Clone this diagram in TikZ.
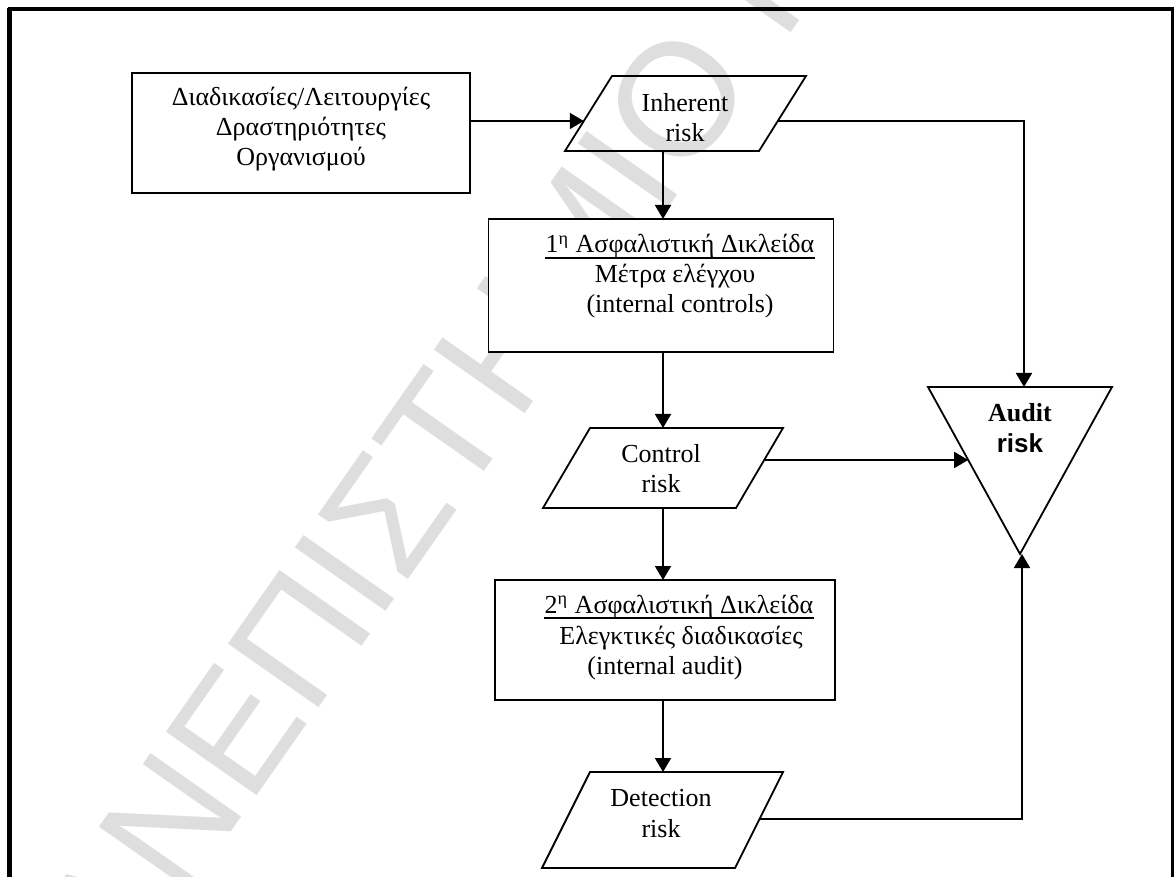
\documentclass[tikz,border=0pt]{standalone}
\usepackage{fontspec}
\setmainfont{Liberation Serif}
\newfontfamily\arialfont{Liberation Sans}
\usetikzlibrary{arrows.meta,calc}
\definecolor{wmgray}{HTML}{DEDEDE}

\begin{document}
\begin{tikzpicture}[x=0.5pt,y=-0.5pt,
  txt/.style={font=\fontsize{13}{15}\selectfont, inner sep=0pt, anchor=base},
  boxnode/.style={draw, fill=white, line width=0.9pt, inner sep=0pt, outer sep=0pt},
  frameless/.style={draw=none, inner sep=0pt, outer sep=0pt},
  outline/.style={line width=0.9pt, line join=miter},
  link/.style={line width=0.9pt},
  arrow/.style={link, -{Triangle[length=7pt,width=8pt]}},
  wm/.style={font=\arialfont\fontsize{80.5}{80}\selectfont, text=wmgray, inner sep=0pt, rotate=55},
]
\useasboundingbox (0,0) rectangle (1174,877);
\fill[white] (0,0) rectangle (1174,877);

% watermark behind the diagram
\node[wm, anchor=base west] (wmark) at (54.4,1085.3) {ΠΑΝΕΠΙΣΤΗΜΙΟ ΠΕΙΡΑΙΩΣ};

% page frame (open at the bottom)
\draw[line width=2.5pt] (9.2,885) -- (9.2,8);
\draw[line width=1.7pt] (8,9) -- (1173,9) -- (1173,885);

% vertical axis of the main flow
\coordinate (spine) at (663,0);

% rectangular boxes
\node[boxnode, minimum width=169pt, minimum height=60pt] (box1) at (301,133) {};
\node[boxnode, minimum width=172.5pt, minimum height=66.5pt] (box2) at (661,285.5) {};
\node[boxnode, minimum width=170pt, minimum height=60pt] (box3) at (665,640) {};

% parallelograms (risk data)
\node[frameless, minimum width=120.5pt, minimum height=37.5pt] (inh) at (685.5,113.5) {};
\node[frameless, minimum width=120pt, minimum height=40pt] (ctrl) at (663,468) {};
\node[frameless, minimum width=120.5pt, minimum height=48pt] (det) at (662.5,820) {};
\draw[outline] ([xshift=23.5pt]inh.north west) -- (inh.north east) -- ([xshift=-23.5pt]inh.south east) -- (inh.south west) -- cycle;
\draw[outline] ([xshift=23.5pt]ctrl.north west) -- (ctrl.north east) -- ([xshift=-23.5pt]ctrl.south east) -- (ctrl.south west) -- cycle;
\draw[outline] ([xshift=24pt]det.north west) -- (det.north east) -- ([xshift=-24pt]det.south east) -- (det.south west) -- cycle;

% inverted triangle
\node[frameless, minimum width=92pt, minimum height=83.5pt] (aud) at (1020,470.5) {};
\draw[outline] (aud.north west) -- (aud.north east) -- (aud.south) -- cycle;

% texts
\node[txt] (b1a) at (301,106) {Διαδικασίες/Λειτουργίες};
\node[txt] (b1b) at (301,136) {Δραστηριότητες};
\node[txt] (b1c) at (301,166) {Οργανισμού};

\node[txt] (inha) at (685,112) {Inherent};
\node[txt] (inhb) at (685,142) {risk};

\node[txt] (b2a) at (680,253) {1\textsuperscript{η} Ασφαλιστική Δικλείδα};
\node[txt] (b2b) at (675,283) {Μέτρα ελέγχου};
\node[txt] (b2c) at (680,313) {(internal controls)};
\draw[line width=0.6pt] ([yshift=-2.5pt]b2a.base west) -- ([yshift=-2.5pt]b2a.base east);

\node[txt] (ctla) at (661,463) {Control};
\node[txt] (ctlb) at (661,493) {risk};

\node[txt, font=\fontsize{13}{15}\selectfont\bfseries] (auda) at (1020,422) {Audit};
\node[txt, font=\arialfont\fontsize{13}{15}\selectfont\bfseries] (audb) at (1020,452) {risk};

\node[txt] (b3a) at (679,613) {2\textsuperscript{η} Ασφαλιστική Δικλείδα};
\node[txt] (b3b) at (681,644) {Ελεγκτικές διαδικασίες};
\node[txt] (b3c) at (665,674) {(internal audit)};
\draw[line width=0.6pt] ([yshift=-2.5pt]b3a.base west) -- ([yshift=-2.5pt]b3a.base east);

\node[txt] (deta) at (661,806) {Detection};
\node[txt] (detb) at (661,837) {risk};

% connection points on slanted edges
\coordinate (inhIn) at ($([xshift=23.5pt]inh.north west)!0.6!(inh.south west)$);
\coordinate (inhOut) at ($(inh.north east)!0.6!([xshift=-23.5pt]inh.south east)$);
\coordinate (ctrlOut) at ($(ctrl.north east)!0.4!([xshift=-23.5pt]ctrl.south east)$);
\coordinate (detOut) at ($(det.north east)!0.49!([xshift=-24pt]det.south east)$);
\coordinate (audIn) at ($(aud.north west)!0.437!(aud.south)$);

% connectors
\draw[arrow] (box1.east |- inhIn) -- (inhIn);
\draw[arrow] (inhOut) -| ([xshift=2pt]aud.north);
\draw[arrow] (inh.south -| spine) -- (box2.north -| spine);
\draw[arrow] (box2.south -| spine) -- (ctrl.north -| spine);
\draw[arrow] (ctrlOut) -- (audIn);
\draw[arrow] (ctrl.south -| spine) -- (box3.north -| spine);
\draw[arrow] (box3.south -| spine) -- (det.north -| spine);
\draw[arrow] (detOut) -| ([xshift=1pt]aud.south);
\end{tikzpicture}
\end{document}
